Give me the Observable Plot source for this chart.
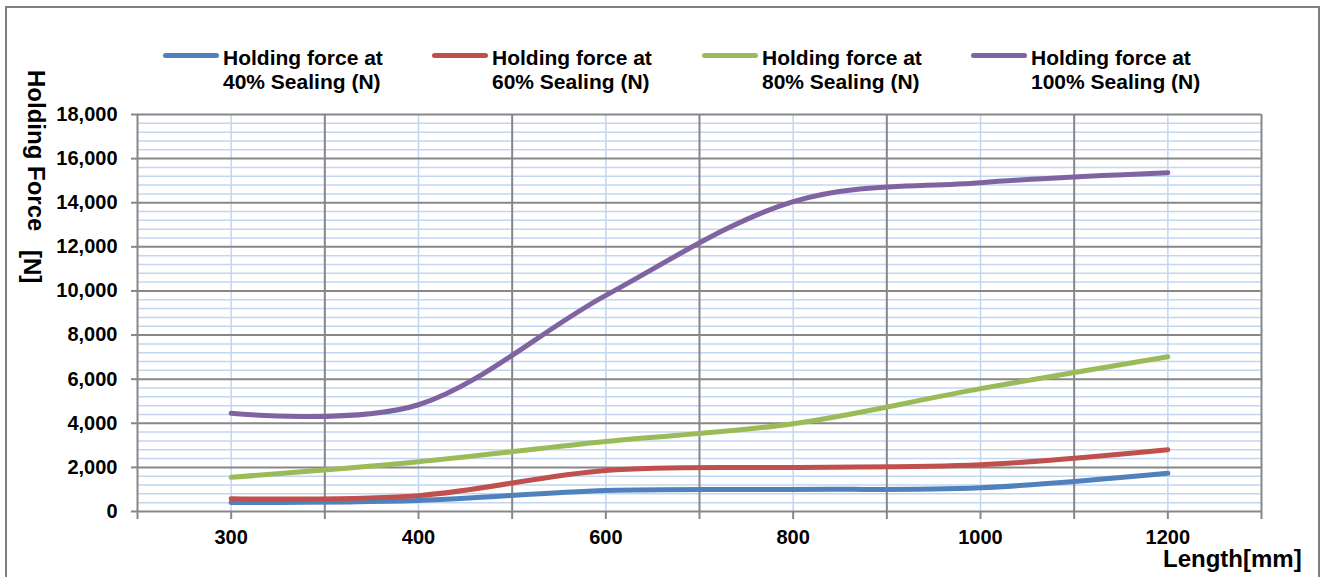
<!DOCTYPE html>
<html><head><meta charset="utf-8">
<script src="https://cdn.jsdelivr.net/npm/d3@7"></script>
<script src="https://cdn.jsdelivr.net/npm/@observablehq/plot@0.6"></script>
<style>
body{margin:0;background:#fff;font-family:"Liberation Sans",Arial,sans-serif;overflow:hidden}
#wrap{position:relative;width:1328px;height:577px;overflow:hidden;background:#fff}
#frame{position:absolute;left:5px;top:6px;width:1315px;height:640px;border:2px solid #7f7f7f;border-bottom:none;box-sizing:border-box}
#chart{position:absolute;left:0;top:0}
.sw{position:absolute;height:5px;width:56px;border-radius:3px}
.lt{position:absolute;font-weight:bold;font-size:21px;line-height:24px;color:#000;white-space:nowrap}
.ytitle{position:absolute;font-weight:bold;font-size:24px;line-height:24px;transform-origin:0 0;transform:rotate(90deg);white-space:pre;color:#000}
#xtitle{position:absolute;left:1163px;top:547px;font-weight:bold;font-size:24px;line-height:24px;white-space:nowrap}
</style>
</head><body>
<div id="wrap">
  <div id="frame"></div>
  <div id="chart"></div>
</div>
<script>
// ---- data ----
const lengths = ["300", "400", "600", "800", "1000", "1200"];
const seriesNames = [
  "Holding force at 40% Sealing (N)",
  "Holding force at 60% Sealing (N)",
  "Holding force at 80% Sealing (N)",
  "Holding force at 100% Sealing (N)"
];
const seriesColors = ["#4F81BD", "#C0504D", "#9BBB59", "#8064A2"];
const force40  = [410, 500, 950, 1000, 1080, 1730];
const force60  = [580, 720, 1860, 2000, 2120, 2800];
const force80  = [1550, 2260, 3170, 3980, 5570, 7020];
const force100 = [4450, 4840, 9800, 14050, 14910, 15360];
const yTicks = [0, 2000, 4000, 6000, 8000, 10000, 12000, 14000, 16000, 18000];
const yMinorStep = 400;

// ---- build table ----
const allSeries = [force40, force60, force80, force100];
const rows = [];
allSeries.forEach((vals, s) => vals.forEach((v, i) => rows.push({i, v, s: seriesNames[s]})));
const centers = lengths.map((_, i) => i);
const bounds = d3.range(-0.5, lengths.length, 1);
const minorY = d3.range(0, 18000 + 1, yMinorStep).filter(v => !yTicks.includes(v));
const xTickVals = d3.merge([bounds, centers]).sort((a, b) => a - b);

const chart = Plot.plot({
  width: 1328,
  height: 577,
  marginTop: 114,
  marginBottom: 66,
  marginLeft: 137,
  marginRight: 67,
  style: {background: "transparent", fontFamily: "'Liberation Sans', Arial, sans-serif", fontWeight: "bold", fontSize: "20px", color: "#000", overflow: "visible"},
  x: {type: "linear", domain: [-0.5, lengths.length - 0.5]},
  y: {domain: [0, 18000]},
  color: {domain: seriesNames, range: seriesColors},
  marks: [
    Plot.ruleY(minorY, {stroke: "#c3d6f0", strokeWidth: 1.5}),
    Plot.ruleX(centers, {stroke: "#c3d6f0", strokeWidth: 1.5}),
    Plot.ruleY(yTicks, {stroke: "#878787", strokeWidth: 2}),
    Plot.ruleX(bounds, {stroke: "#878787", strokeWidth: 2}),
    Plot.axisY({ticks: yTicks, tickFormat: d3.format(","), tickSize: 6, tickPadding: 14, stroke: "#878787", strokeWidth: 2, label: null, fontSize: 20, fill: "#000"}),
    Plot.axisX({ticks: xTickVals, tickFormat: d => Number.isInteger(d) ? lengths[d] : "", tickSize: 8, tickPadding: 10, stroke: "#878787", strokeWidth: 2, label: null, fontSize: 20, fill: "#000"}),
    Plot.line(rows, {x: "i", y: "v", z: "s", stroke: "s", strokeWidth: 5, curve: "cardinal", strokeLinecap: "round", strokeLinejoin: "round"})
  ]
});
document.getElementById("chart").appendChild(chart);

// ---- legend ----
const wrap = document.getElementById("wrap");
const legendX = [163, 432, 702, 971];
seriesNames.forEach((name, k) => {
  const sw = document.createElement("div");
  sw.className = "sw";
  sw.style.left = legendX[k] + "px";
  sw.style.top = "53px";
  sw.style.background = seriesColors[k];
  wrap.appendChild(sw);
  const t = document.createElement("div");
  t.className = "lt";
  t.style.left = (legendX[k] + 60) + "px";
  t.style.top = "46px";
  const parts = name.split(" at ");
  t.innerHTML = parts[0] + " at<br>" + parts[1];
  wrap.appendChild(t);
});
// ---- axis titles ----
const yt1 = document.createElement("div");
yt1.className = "ytitle"; yt1.style.left = "48px"; yt1.style.top = "70px"; yt1.textContent = "Holding Force";
wrap.appendChild(yt1);
const yt2 = document.createElement("div");
yt2.className = "ytitle"; yt2.style.left = "44px"; yt2.style.top = "250px"; yt2.textContent = "[N]";
wrap.appendChild(yt2);
const xt = document.createElement("div");
xt.id = "xtitle"; xt.textContent = "Length[mm]";
wrap.appendChild(xt);
</script>
</body></html>
